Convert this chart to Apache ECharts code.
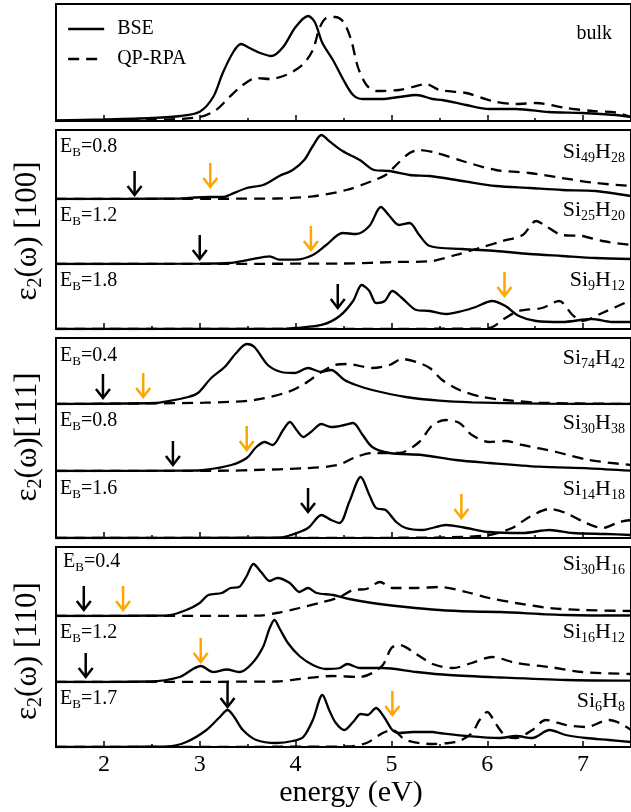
<!DOCTYPE html>
<html>
<head>
<meta charset="UTF-8">
<title>eps2 spectra of Si nanowires</title>
<script src="https://cdn.jsdelivr.net/npm/echarts@6/dist/echarts.min.js"></script>
<style>
  html, body { margin: 0; padding: 0; background: #fff; }
  #main { width: 631px; height: 812px; }
</style>
</head>
<body>
<div id="main"></div>
<script>
// [energy (eV), eps2 (arb. units)]
var bulkBSE = [[1.5,0.5],[2.0,1.5],[2.5,3],[2.8,5],[3.0,9.3],[3.14,24],[3.24,48],[3.35,69],[3.43,77],[3.52,73],[3.63,68],[3.75,65],[3.87,74],[4.0,94],[4.13,105],[4.2,99],[4.28,78],[4.39,61],[4.5,41],[4.6,26],[4.7,22],[4.9,22],[5.08,24],[5.26,26],[5.43,22],[5.53,21],[5.78,16],[6.02,12],[6.3,12],[6.64,9],[6.99,8],[7.34,6],[7.5,4]];
var bulkRPA = [[1.5,0],[2.5,1],[3.0,4],[3.17,11],[3.31,24],[3.45,36],[3.59,43],[3.73,42],[3.9,46],[4.07,56],[4.18,71],[4.25,93],[4.32,103],[4.41,104],[4.5,99],[4.58,81],[4.65,54],[4.74,36],[4.84,30],[5.08,31],[5.22,34],[5.36,37],[5.5,31],[5.78,28],[6.05,20],[6.3,17],[6.51,18],[6.82,13],[7.1,10],[7.34,8.5],[7.5,4]];

// [100]
var si49BSE = [[1.5,0],[2.8,0.5],[2.95,1.5],[3.1,2],[3.25,2],[3.31,4],[3.49,11],[3.66,14],[3.83,23],[3.97,29],[4.09,39],[4.18,53],[4.27,64],[4.35,58],[4.49,48],[4.67,39],[4.82,29],[4.98,28],[5.19,24],[5.4,23],[5.74,18],[6.09,13],[6.44,11],[6.78,9],[7.13,8],[7.5,3]];
var si49RPA = [[1.5,0],[3.8,0.5],[4.18,2.7],[4.53,9],[4.8,18],[4.94,24],[5.05,34],[5.19,46],[5.29,49],[5.47,46],[5.74,38],[6.09,29],[6.44,26],[6.78,21],[7.13,16],[7.5,13]];
var si25BSE = [[1.5,0],[3.0,0.3],[3.31,1],[3.52,4.3],[3.73,7.7],[3.83,4.3],[4.0,4.3],[4.18,9],[4.32,19],[4.49,31],[4.63,30],[4.77,38],[4.89,57],[4.98,48],[5.08,39],[5.19,41],[5.29,29],[5.4,18],[5.74,15],[6.09,13],[6.44,10],[6.78,8],[7.13,6],[7.5,5]];
var si25RPA = [[1.5,0],[4.5,0.5],[5.05,2],[5.4,2.7],[5.67,9],[5.92,16],[6.16,23],[6.37,29],[6.51,43],[6.61,38],[6.78,29],[6.99,28],[7.2,23],[7.5,19]];
var si9BSE = [[1.5,0],[3.9,0.3],[4.0,1],[4.28,4.3],[4.46,13],[4.6,28],[4.69,44],[4.77,38],[4.84,26],[4.93,28],[5.01,38],[5.11,31],[5.26,19],[5.4,18],[5.57,15],[5.74,18],[5.88,22],[6.05,28],[6.19,23],[6.33,13],[6.51,8],[6.78,7],[7.09,10],[7.3,7],[7.5,7]];
var si9RPA = [[1.5,0],[5.8,0.3],[6.02,1],[6.19,11],[6.33,18],[6.57,21],[6.75,28],[6.89,14],[6.99,8],[7.2,16],[7.5,29]];

// [111]
var si74BSE = [[1.5,0],[2.55,1],[2.64,2.3],[2.88,7],[2.98,11],[3.12,26],[3.26,37],[3.38,51],[3.49,60],[3.57,57],[3.71,39],[3.85,32],[3.99,31],[4.13,36],[4.27,32],[4.37,34],[4.51,24],[4.63,19],[4.8,14],[5.15,7],[5.5,3.3],[5.84,1.7],[6.54,0.3],[7.5,0]];
var si74RPA = [[1.5,0],[3.05,1.3],[3.57,4],[3.92,12],[4.09,20],[4.27,32],[4.41,39],[4.54,40],[4.8,36],[4.98,39],[5.11,45],[5.26,42],[5.4,36],[5.53,24],[5.71,14],[5.95,7],[6.19,4],[6.54,1.3],[7.5,0]];
var si30aBSE = [[1.5,0],[2.88,0.3],[3.05,1],[3.33,6],[3.49,13],[3.59,24],[3.68,29],[3.76,26],[3.87,41],[3.94,49],[4.01,41],[4.08,34],[4.16,39],[4.27,47],[4.37,44],[4.51,46],[4.6,48],[4.7,36],[4.8,24],[4.98,18],[5.32,16],[5.67,11],[6.02,8],[6.54,4.3],[7.06,2.7],[7.5,0.3]];
var si30aRPA = [[1.5,0],[3.3,0.3],[3.57,1],[4.09,2.7],[4.44,6],[4.63,14],[4.8,18],[5.08,18],[5.29,29],[5.43,46],[5.57,51],[5.71,48],[5.84,36],[6.02,29],[6.19,30],[6.37,26],[6.72,19],[7.06,11],[7.5,6]];
var si14BSE = [[1.5,0],[3.8,0.3],[3.92,2],[4.13,10],[4.27,23],[4.37,18],[4.46,15],[4.56,36],[4.68,61],[4.77,43],[4.84,30],[4.94,28],[5.05,16],[5.15,10],[5.32,8],[5.57,13],[5.78,10],[6.02,6],[6.37,5],[6.65,8],[6.89,5],[7.24,4],[7.5,3]];
var si14RPA = [[1.5,0],[5.4,0.3],[5.78,1.3],[6.02,3],[6.26,10],[6.44,21],[6.65,29],[6.82,25],[7.03,15],[7.2,10],[7.38,16],[7.5,18]];

// [110]
var si30bBSE = [[1.5,0],[2.66,0.5],[2.86,6],[3.0,13],[3.09,21],[3.23,23],[3.32,28],[3.41,29],[3.49,40],[3.56,52],[3.64,44],[3.73,35],[3.81,38],[3.94,33],[4.04,24],[4.13,28],[4.22,23],[4.39,21],[4.56,17],[4.8,13],[5.15,9],[5.5,6],[5.84,4.5],[6.13,4],[6.82,1],[7.5,0.5]];
var si30bRPA = [[1.5,0],[3.6,0.3],[3.8,3],[4.04,8],[4.25,13],[4.46,19],[4.6,26],[4.74,27],[4.88,34],[5.01,28],[5.26,28],[5.5,29],[5.78,24],[6.02,18],[6.3,13],[6.65,8],[6.99,6],[7.5,5]];
var si16BSE = [[1.5,0],[2.48,0.5],[2.79,5],[2.93,13],[3.01,16],[3.14,10],[3.28,12.5],[3.42,10],[3.55,19],[3.66,35],[3.73,54],[3.78,62],[3.83,54],[3.92,39],[4.04,26],[4.18,17],[4.32,13],[4.46,14],[4.54,18],[4.67,14],[4.91,14],[5.26,10],[5.6,7],[6.13,4.5],[6.82,2],[7.5,1.3]];
var si16RPA = [[1.5,0],[3.8,0.5],[4.04,3],[4.39,6],[4.67,5],[4.8,9],[4.91,17],[5.0,34],[5.08,37],[5.26,28],[5.43,18],[5.64,14],[5.84,19],[6.05,25],[6.3,19],[6.65,15],[6.99,10],[7.5,8]];
var si6BSE = [[1.5,0],[2.66,0.5],[2.86,5],[3.07,17],[3.21,30],[3.29,37],[3.36,30],[3.45,17],[3.59,7],[3.8,4],[3.97,6],[4.08,10],[4.18,27],[4.28,52],[4.35,37],[4.42,24],[4.51,17],[4.6,25],[4.68,33],[4.75,32],[4.84,39],[4.93,29],[5.01,17],[5.08,14],[5.22,15],[5.43,15],[5.5,14],[5.78,11],[6.13,9],[6.3,11],[6.47,9],[6.65,17],[6.82,12],[7.03,9],[7.27,7],[7.5,5]];
var si6RPA = [[1.5,0],[4.55,0.5],[4.74,4],[4.91,14],[5.01,17],[5.15,7],[5.43,3],[5.6,4],[5.71,6],[5.84,14],[5.92,27],[6.0,35],[6.09,23],[6.19,11],[6.3,9],[6.47,17],[6.61,27],[6.82,22],[7.03,20],[7.27,27],[7.38,24],[7.5,17]];

var bseCurves = [bulkBSE, si49BSE, si25BSE, si9BSE, si74BSE, si30aBSE, si14BSE, si30bBSE, si16BSE, si6BSE];
var rpaCurves = [bulkRPA, si49RPA, si25RPA, si9RPA, si74RPA, si30aRPA, si14RPA, si30bRPA, si16RPA, si6RPA];

// arrows: [energy, height of the tip]
var blackArrows  = [null, [2.32,4], [3.0,5], [4.44,21], [1.99,6], [2.72,6], [4.13,26], [1.79,6], [1.81,5], [3.29,40]];
var orangeArrows = [null, [3.11,12], [4.16,14], [6.18,33], [2.41,7], [3.49,21], [5.73,20], [2.2,6], [3.01,20], [5.01,32]];

var ebLabels = [null, '0.8', '1.2', '1.8', '0.4', '0.8', '1.6', '0.4', '1.2', '1.7'];
var siLabels = [null, ['49','28'], ['25','20'], ['9','12'], ['74','42'], ['30','38'], ['14','18'], ['30','16'], ['16','12'], ['6','8']];
var dirLabels = ['[100]', '[111]', '[110]'];
var xTicks = [2, 3, 4, 5, 6, 7];
var xMinorTicks = [2.5, 3.5, 4.5, 5.5, 6.5];

// layout (pixels)
var FONT = '"Liberation Serif", "Times New Roman", serif';
var GL = 56, GW = 578;
var LW = 2.3;
var panels = [
  {top: 4,   bottom: 121, bases: [121]},
  {top: 130, bottom: 329, bases: [199, 264, 329]},
  {top: 338, bottom: 538, bases: [404, 471, 538]},
  {top: 547, bottom: 747, bases: [616, 682, 747]}
];
var ebY = [null, 147, 216, 281, 356, 421, 489, 562, 633, 699];
var ebX = [null, 60, 60, 60, 60, 60, 60, 63, 60, 60];
var siY = [null, 152, 210, 280, 358, 423, 489, 564, 632, 701];
var dirY = [231, 437, 651];

var myChart = echarts.init(document.getElementById('main'));

var grids = [], xAxes = [], yAxes = [], series = [], graphics = [];
var subs = [];
panels.forEach(function (p) {
  p.bases.forEach(function (b) { subs.push({top: p.top, base: b}); });
});

subs.forEach(function (s, i) {
  grids.push({left: GL, width: GW, top: s.top, height: s.base - s.top});
  xAxes.push({gridIndex: i, type: 'value', min: 1.5, max: 7.5, show: false});
  yAxes.push({gridIndex: i, type: 'value', min: 0, max: s.base - s.top, show: false});

  series.push({
    name: 'BSE', type: 'line', xAxisIndex: i, yAxisIndex: i,
    data: bseCurves[i], showSymbol: false, symbol: 'none', smooth: 0.3,
    lineStyle: {color: '#000', width: LW}, itemStyle: {color: '#000'}
  });
  series.push({
    name: 'QP-RPA', type: 'line', xAxisIndex: i, yAxisIndex: i,
    data: rpaCurves[i], showSymbol: false, symbol: 'none', smooth: 0.3,
    lineStyle: {color: '#000', width: LW, type: [11, 7]}, itemStyle: {color: '#000'}
  });
  if (blackArrows[i]) {
    series.push(arrowSeries(i, blackArrows[i], '#000'));
    series.push(arrowSeries(i, orangeArrows[i], '#FFA500'));
  }
});

function arrowSeries(i, pt, color) {
  return {
    type: 'custom', xAxisIndex: i, yAxisIndex: i, data: [pt], z: 5,
    renderItem: function (params, api) {
      var c = api.coord([api.value(0), api.value(1)]);
      var x = c[0], y = c[1];
      return {
        type: 'group',
        children: [
          {type: 'line', shape: {x1: x, y1: y - 24, x2: x, y2: y - 1},
           style: {stroke: color, lineWidth: 2.5}},
          {type: 'polyline', shape: {points: [[x - 7, y - 9], [x, y], [x + 7, y - 9]]},
           style: {stroke: color, lineWidth: 2.5, fill: null}}
        ]
      };
    }
  };
}

// panel frames with ticks
var n = subs.length;
panels.forEach(function (p, k) {
  var gi = n + k;
  var last = k === panels.length - 1;
  grids.push({left: GL, width: GW, top: p.top, height: p.bottom - p.top,
              show: true, borderColor: '#000', borderWidth: 2, backgroundColor: 'transparent'});
  yAxes.push({gridIndex: gi, type: 'value', show: false});
  xAxes.push({
    gridIndex: gi, type: 'value', min: 1.5, max: 7.5, position: 'bottom',
    axisLine: {show: false}, splitLine: {show: false},
    axisTick: {inside: true, length: 6, customValues: xTicks, lineStyle: {color: '#000', width: 1.5}},
    axisLabel: {show: last, customValues: xTicks, color: '#000', fontFamily: FONT, fontSize: 24, margin: 6}
  });
});
panels.forEach(function (p, k) {
  xAxes.push({
    gridIndex: n + k, type: 'value', min: 1.5, max: 7.5, position: 'bottom',
    axisLine: {show: false}, splitLine: {show: false},
    axisTick: {inside: true, length: 3, customValues: xMinorTicks, lineStyle: {color: '#000', width: 1.5}},
    axisLabel: {show: false}
  });
});

// labels
var subRich = function (main, sub, lh, drop) {
  return {
    n: {fontFamily: FONT, fontSize: main, lineHeight: lh, verticalAlign: 'middle', fill: '#000'},
    s: {fontFamily: FONT, fontSize: sub, lineHeight: lh - 2 * drop, verticalAlign: 'bottom', fill: '#000'}
  };
};
for (var i = 1; i < n; i++) {
  graphics.push({
    type: 'text', x: ebX[i], y: ebY[i], z: 10,
    style: {text: '{n|E}{s|B}{n|=' + ebLabels[i] + '}', rich: subRich(20, 13, 24, 6),
            align: 'left', verticalAlign: 'middle'}
  });
  graphics.push({
    type: 'text', x: 625, y: siY[i], z: 10,
    style: {text: '{n|Si}{s|' + siLabels[i][0] + '}{n|H}{s|' + siLabels[i][1] + '}',
            rich: subRich(22, 14, 26, 6), align: 'right', verticalAlign: 'middle'}
  });
}
graphics.push({
  type: 'text', x: 612, y: 34, z: 10,
  style: {text: 'bulk', font: '20px ' + FONT, fill: '#000', align: 'right', verticalAlign: 'middle'}
});
dirLabels.forEach(function (d, k) {
  var rest = k === 1 ? '(ω)' + d : '(ω) ' + d;
  graphics.push({
    type: 'text', x: 28, y: dirY[k], rotation: Math.PI / 2, z: 10,
    style: {text: '{n|ε}{s|2}{n|' + rest + '}', rich: subRich(31, 20, 36, 7),
            align: 'center', verticalAlign: 'middle'}
  });
});
graphics.push({
  type: 'text', x: 351, y: 793, z: 10,
  style: {text: 'energy (eV)', font: '30px ' + FONT, fill: '#000', align: 'center', verticalAlign: 'middle'}
});

var option = {
  animation: false,
  backgroundColor: '#fff',
  legend: {
    data: ['BSE', 'QP-RPA'], orient: 'vertical', left: 62, top: 14,
    itemWidth: 36, itemHeight: 12, itemGap: 10, selectedMode: false,
    itemStyle: {opacity: 0},
    lineStyle: {width: LW},
    textStyle: {fontFamily: FONT, fontSize: 20, color: '#000', padding: [0, 0, 0, 8]}
  },
  grid: grids,
  xAxis: xAxes,
  yAxis: yAxes,
  series: series,
  graphic: graphics
};
myChart.setOption(option);
</script>
</body>
</html>
